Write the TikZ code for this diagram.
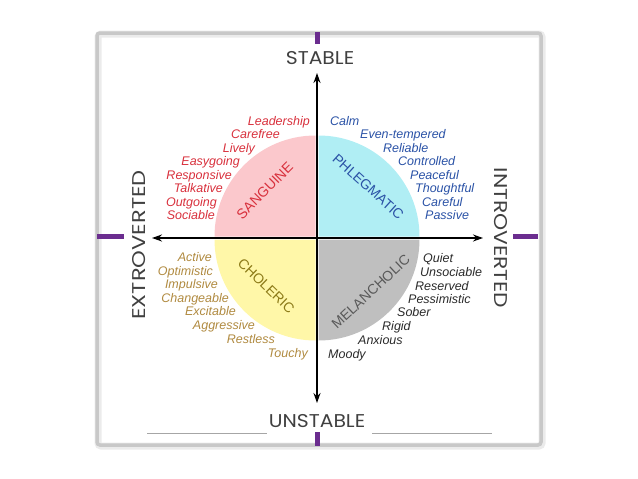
\documentclass[tikz,border=0pt]{standalone}
\usepackage{fontspec}
\setmainfont{Liberation Sans}
\newfontfamily\axisfont{Poppins}
\usetikzlibrary{arrows.meta}
\definecolor{purplemark}{HTML}{6B2D8F}
\definecolor{sangfill}{HTML}{FBC8CC}
\definecolor{sangtext}{HTML}{D8303C}
\definecolor{phlegfill}{HTML}{B0EEF4}
\definecolor{phlegtext}{HTML}{2A52A6}
\definecolor{cholfill}{HTML}{FFF7A8}
\definecolor{choltext}{HTML}{B08A40}
\definecolor{chollabel}{HTML}{8C7A18}
\definecolor{melfill}{HTML}{BFBFBF}
\definecolor{meltext}{HTML}{2A2A2A}
\definecolor{framegray}{HTML}{C8C8C8}
\tikzset{
  word/.style={inner sep=0pt, text height=8.5pt, text depth=2pt, font=\fontsize{12.5}{14}\selectfont\itshape},
  axislabel/.style={inner sep=0pt, font=\axisfont\fontsize{18.5}{20}\selectfont, text=black!75},
  quadlabel/.style={inner sep=0pt, text height=9pt, text depth=0pt, font=\fontsize{14}{16}\selectfont},
  purplebar/.style={fill=purplemark, draw=none},
  axisarrow/.style={line width=1.8pt, {Stealth[length=10pt,width=7pt]}-{Stealth[length=10pt,width=7pt]}},
}
\begin{document}
\begin{tikzpicture}[x=1pt,y=-1pt]
\useasboundingbox (0,0) rectangle (638,479);
% frame
\draw[line width=7pt, black!8, rounded corners=3pt] (98,34) rectangle (542,446);
\draw[line width=3.5pt, framegray, rounded corners=3pt] (97,33) rectangle (541,445);
% purple marks
\fill[purplebar] (315,32) rectangle (320,44);
\fill[purplebar] (315,432) rectangle (320,446);
\fill[purplebar] (97,234) rectangle (124,239);
\fill[purplebar] (513,234) rectangle (538,239);
% bottom grey lines
\draw[black!35, line width=0.8pt] (147,433) -- (267,433);
\draw[black!35, line width=0.8pt] (372,433) -- (492,433);
% quadrants
\coordinate (c) at (317,238);
\fill[sangfill] (315.5,236.5) -- ++(-101,0) arc[start angle=180, end angle=270, radius=101] -- cycle;
\fill[phlegfill] (318.5,236.5) -- ++(0,-101) arc[start angle=270, end angle=360, radius=101] -- cycle;
\fill[cholfill] (315.5,239.5) -- ++(-101,0) arc[start angle=180, end angle=90, radius=101] -- cycle;
\fill[melfill] (318.5,239.5) -- ++(101,0) arc[start angle=0, end angle=90, radius=101] -- cycle;
% axes
\coordinate (top) at (317,73);
\coordinate (bot) at (317,403);
\coordinate (lft) at (152,238);
\coordinate (rgt) at (483,238);
\draw[axisarrow] (top) -- (bot);
\draw[axisarrow] (lft) -- (rgt);
% axis labels
\node[axislabel, xscale=1.1] (stable) at (320,58) {STABLE};
\node[axislabel, xscale=1.1] (unstable) at (317,421) {UNSTABLE};
\node[axislabel, rotate=90, xscale=1.22] (extro) at (139,245) {EXTROVERTED};
\node[axislabel, rotate=-90, xscale=1.18] (intro) at (501,238) {INTROVERTED};
% quadrant labels
\node[quadlabel, text=sangtext, rotate=45] (sanguine) at (265,191) {SANGUINE};
\node[quadlabel, text=phlegtext, rotate=-42] (phlegmatic) at (368,187) {PHLEGMATIC};
\node[quadlabel, text=chollabel, rotate=-44] (choleric) at (266,286) {CHOLERIC};
\node[quadlabel, text=black!65, rotate=43] (melancholic) at (371,292) {MELANCHOLIC};
% word lists
\foreach \w/\x/\y [count=\i] in {Leadership/310/122, Carefree/280/135.5, Lively/255/149, Easygoing/240/162.5, Responsive/232/176, Talkative/223/189.5, Outgoing/217/203, Sociable/215/216.5}
  \node[word, text=sangtext, anchor=east] (s\i) at (\x,\y) {\w};
\foreach \w/\x/\y [count=\i] in {Calm/330/122, Even-tempered/360/135.5, Reliable/383/149, Controlled/398/162.5, Peaceful/410/176, Thoughtful/415/189.5, Careful/422/203, Passive/425/216.5}
  \node[word, text=phlegtext, anchor=west] (p\i) at (\x,\y) {\w};
\foreach \w/\x/\y [count=\i] in {Active/212/258.5, Optimistic/213/272, Impulsive/218/285.5, Changeable/229/299, Excitable/236/312.5, Aggressive/255/326.5, Restless/275/340, Touchy/308/354}
  \node[word, text=choltext, anchor=east] (ch\i) at (\x,\y) {\w};
\foreach \w/\x/\y [count=\i] in {Quiet/423/259, Unsociable/420/273, Reserved/415/287, Pessimistic/408/300, Sober/397/313.5, Rigid/382/327, Anxious/358/341, Moody/328/355}
  \node[word, text=meltext, anchor=west] (m\i) at (\x,\y) {\w};
\end{tikzpicture}
\end{document}
